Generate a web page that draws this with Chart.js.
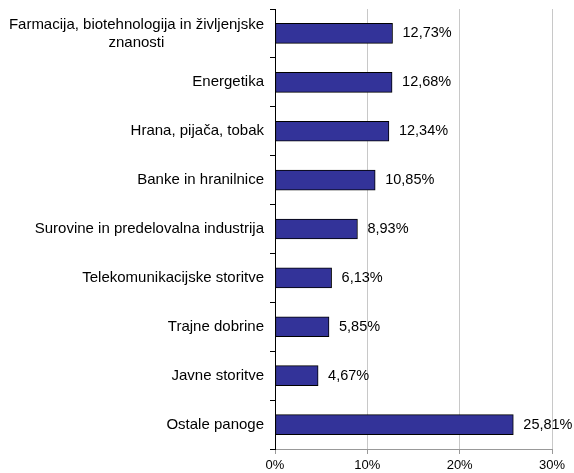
<!DOCTYPE html>
<html>
<head>
<meta charset="utf-8">
<script src="https://cdn.jsdelivr.net/npm/chart.js@4/dist/chart.umd.min.js"></script>
<style>
  html, body { margin: 0; padding: 0; background: #fff; }
  canvas { display: block; }
</style>
</head>
<body>
<canvas id="chart" width="574" height="473"></canvas>
<script>
// Sector weights (%)
const categories = [
  ["Farmacija, biotehnologija in življenjske", "znanosti"],
  "Energetika",
  "Hrana, pijača, tobak",
  "Banke in hranilnice",
  "Surovine in predelovalna industrija",
  "Telekomunikacijske storitve",
  "Trajne dobrine",
  "Javne storitve",
  "Ostale panoge"
];
const shares = [12.73, 12.68, 12.34, 10.85, 8.93, 6.13, 5.85, 4.67, 25.81];
const xTickValues = [0, 10, 20, 30];

const FONT = "'Liberation Sans', Arial, sans-serif";
const fmtPct = v => v.toFixed(2).replace('.', ',') + '%';

// Category labels, right-aligned to the axis; multi-line labels are centred on their widest line
const categoryLabels = {
  id: 'categoryLabels',
  afterDraw(chart) {
    const { ctx } = chart;
    const y = chart.scales.y;
    const right = y.right - 11;
    const size = 15, lh = 18;
    ctx.save();
    ctx.font = size + 'px ' + FONT;
    ctx.fillStyle = '#000';
    ctx.textBaseline = 'middle';
    ctx.textAlign = 'center';
    categories.forEach((lab, i) => {
      const lines = Array.isArray(lab) ? lab : [lab];
      const w = Math.max(...lines.map(l => ctx.measureText(l).width));
      const cx = right - w / 2;
      const cy = y.getPixelForValue(i);
      const top = cy - (lines.length - 1) * lh / 2;
      lines.forEach((l, k) => ctx.fillText(l, cx, top + k * lh));
    });
    ctx.restore();
  }
};

// Value labels to the right of each bar
const valueLabels = {
  id: 'valueLabels',
  afterDatasetsDraw(chart) {
    const { ctx } = chart;
    const meta = chart.getDatasetMeta(0);
    ctx.save();
    ctx.font = '14.5px ' + FONT;
    ctx.fillStyle = '#000';
    ctx.textBaseline = 'middle';
    ctx.textAlign = 'left';
    meta.data.forEach((bar, i) => {
      ctx.fillText(fmtPct(shares[i]), bar.x + 10, bar.y);
    });
    ctx.restore();
  }
};

new Chart(document.getElementById('chart'), {
  type: 'bar',
  data: {
    labels: categories.map(c => Array.isArray(c) ? c.join(' ') : c),
    datasets: [{
      data: shares,
      backgroundColor: '#333399',
      borderColor: '#000000',
      borderWidth: 1,
      borderSkipped: false,
      barThickness: 20
    }]
  },
  options: {
    indexAxis: 'y',
    responsive: false,
    animation: false,
    devicePixelRatio: 1,
    layout: { padding: { left: 0, right: 22, top: 9, bottom: 0 } },
    plugins: {
      legend: { display: false },
      tooltip: { enabled: false }
    },
    scales: {
      x: {
        min: 0,
        max: 30,
        afterBuildTicks(scale) {
          scale.ticks = xTickValues.map(v => ({ value: v }));
        },
        afterFit(scale) { scale.height = 24; },
        ticks: {
          callback: v => v + '%',
          color: '#000',
          font: { family: FONT, size: 13 },
          padding: 4,
          maxRotation: 0
        },
        grid: {
          color: ctx => ctx.index === 0 ? 'rgba(0,0,0,0)' : '#c8c8c8',
          tickColor: '#999999',
          tickLength: 5,
          lineWidth: 1
        },
        border: { color: '#999999', width: 1 }
      },
      y: {
        afterFit(scale) { scale.width = 275; },
        ticks: { display: false },
        grid: {
          drawOnChartArea: false,
          offset: true,
          tickLength: 5,
          tickColor: '#000',
          color: '#000'
        },
        border: { color: '#000', width: 1 }
      }
    }
  },
  plugins: [categoryLabels, valueLabels]
});
</script>
</body>
</html>
